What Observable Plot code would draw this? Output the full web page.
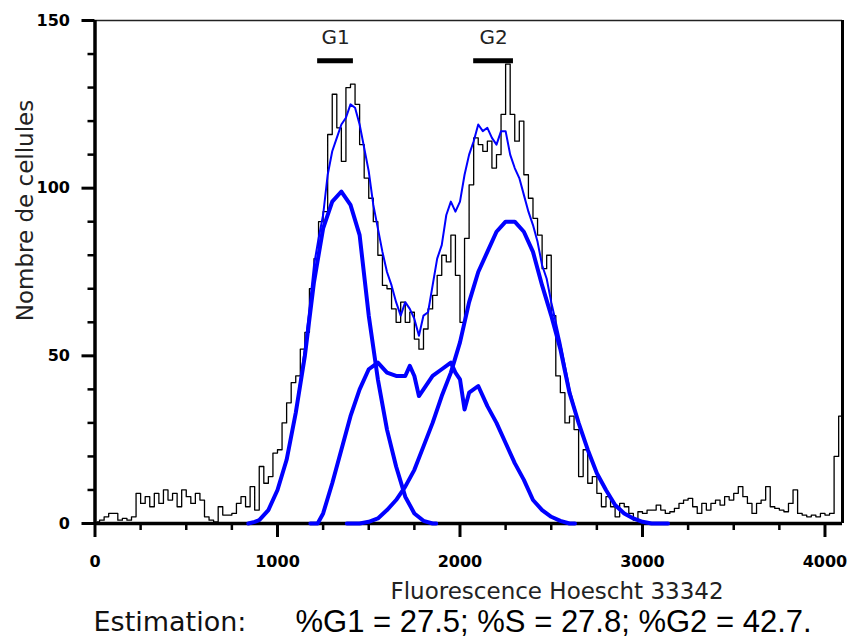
<!DOCTYPE html>
<html><head><meta charset="utf-8">
<script src="https://cdn.jsdelivr.net/npm/d3@7"></script>
<script src="https://cdn.jsdelivr.net/npm/@observablehq/plot@0.6"></script>
<style>
body{margin:0;background:#fff;}
#chart svg{display:block;}
</style></head><body><div id="chart"></div>
<script>
// Histogram channel width (fluorescence units per bin)
const binWidth = 25;
// Black histogram: cell counts per bin (bins start at 0)
const counts = [
  0.5,1,2,3,3,1,1.5,1,
  2,9,6,8,5,9,6,10,
  7,9,5,10,8,6,9,7,
  2,1,0.5,5,2.5,2.5,3,6,
  8,5,11,4,17,12,14,21,
  22,30,36,42,44,52,57,70,
  79,90,93,116,128,118,108,130,
  131,125,113,103,97,90,80,71,
  70,64,60,66,60,63,55,52,
  58,64,68,74,80,78,86,74,
  60,85,101,115,113,111,114,106,
  110,122,137,122,114,120,104,97,
  91,86,76,80,62,44,39,30,
  32,28,14,22,12,14,9,5,
  8,5,2,6,5,3,1,3.5,
  3,4,4,5.5,4,3,3.5,4.5,
  6,7,7.5,5,3,6,4,6,
  7,5.5,8,7,9,11,8,6,
  3,6,7,11,5,4.5,4,3.5,
  6,10,3,2.5,2,2.5,2,3,
  2.5,3,20,32
];
// Fitted components [fluorescence, count]
const g1Fit = [[840,0],[875,0.5],[900,1],[950,4],[1000,10],[1050,19],[1100,33],[1150,50],[1200,72],[1250,88],[1300,96],[1350,99],[1400,95],[1450,86],[1500,62],[1550,43],[1600,28],[1650,17],[1700,8],[1750,3],[1800,0.8],[1850,0],[1870,0]];
const sFit = [[1180,0],[1220,0],[1250,3],[1300,12],[1350,22],[1400,32],[1450,40],[1500,46],[1550,48],[1600,45],[1650,44],[1700,44],[1725,47],[1750,44],[1775,38],[1800,40],[1850,44],[1900,46],[1950,48],[1975,45],[2000,43],[2025,34],[2050,39],[2100,41],[2150,35],[2200,30],[2250,24],[2300,18],[2350,13],[2400,7],[2450,4],[2500,2],[2550,0.8],[2600,0],[2630,0]];
const g2Fit = [[1380,0],[1450,0],[1500,0.5],[1550,1.5],[1600,4],[1650,7],[1700,11],[1750,16],[1800,23],[1850,30],[1900,38],[1950,45],[2000,54],[2050,66],[2100,75],[2150,81],[2200,87],[2250,90],[2300,90],[2350,87],[2400,81],[2450,71],[2500,62],[2550,52],[2600,39],[2650,30],[2700,22],[2750,15],[2800,10],[2850,5.5],[2900,3],[2950,1.5],[3000,0.5],[3050,0],[3140,0]];
const sumFit = [[850,0],[900,1],[950,4],[1000,10],[1050,19],[1100,33],[1150,52],[1175,64],[1200,77],[1225,85],[1250,92],[1275,104],[1300,111],[1325,115],[1350,119],[1375,121],[1400,125],[1425,124],[1450,119],[1475,112],[1500,105],[1525,95],[1550,88],[1575,81],[1600,75],[1625,71],[1650,66],[1675,62],[1700,66],[1725,64],[1750,61],[1775,56],[1800,62],[1825,63],[1850,71],[1875,79],[1900,83],[1925,92],[1950,96],[1975,93],[2000,96],[2025,104],[2050,110],[2075,114],[2100,119],[2125,117],[2150,118],[2175,115],[2200,113],[2225,117],[2250,117],[2275,110],[2300,106],[2325,103],[2350,98],[2375,93],[2400,89],[2425,84],[2450,77],[2475,73],[2500,66],[2525,60],[2550,54],[2575,47],[2600,40],[2650,30],[2700,22],[2750,15],[2800,10],[2850,5.5],[2900,3],[2950,1.5],[3000,0.5],[3050,0]];
// Gates
const gateLabels = ["G1","G2"];
const gateStart = [1220, 2075];
const gateEnd = [1416, 2293];
const gateLevel = 138;
// Axes
const xDomain = [0, 4096];
const yDomain = [0, 150];
const xMajor = [0,1000,2000,3000,4000];
const xMinor = [250,500,750,1250,1500,1750,2250,2500,2750,3250,3500,3750];
const yMajor = [0,50,100,150];
const yMinor = [10,20,30,40,60,70,80,90,110,120,130,140];
const xLabel = "Fluorescence Hoescht 33342";
const yLabel = "Nombre de cellules";
const estimationLabel = "Estimation:";
const estimationText = "%G1 = 27.5; %S = 27.8; %G2 = 42.7.";

const hist = counts.map((c, i) => ({x: i * binWidth + binWidth / 2, y: c}));
const pts = arr => arr.map(([x, y]) => ({x, y}));
const gates = gateLabels.map((g, i) => ({label: g, x1: gateStart[i], x2: gateEnd[i]}));
const fmt = d => String(d);

const plot = Plot.plot({
  width: 851, height: 639,
  marginTop: 20, marginLeft: 94.5, marginRight: 9, marginBottom: 116,
  x: {domain: xDomain},
  y: {domain: yDomain},
  style: {fontFamily: "DejaVu Sans", background: "#fff", color: "#000"},
  marks: [
    Plot.axisX(xMinor, {tickSize: 7, strokeWidth: 2.5, tickFormat: () => "", label: null}),
    Plot.axisX(xMajor, {tickSize: 14, tickPadding: 18, strokeWidth: 3, fontSize: 16, fontWeight: "bold", tickFormat: fmt, label: null}),
    Plot.axisY(yMinor, {tickSize: 7, strokeWidth: 2.5, tickFormat: () => "", label: null}),
    Plot.axisY(yMajor, {tickSize: 13, tickPadding: 12, strokeWidth: 3, fontSize: 16, fontWeight: "bold", tickFormat: fmt, label: null}),
    Plot.ruleY([yDomain[1]], {stroke: "#222", strokeWidth: 1.5}),
    Plot.ruleX([xDomain[1]], {stroke: "#000", strokeWidth: 3}),
    Plot.ruleX([xDomain[0]], {stroke: "#000", strokeWidth: 3.5}),
    Plot.ruleY([yDomain[0]], {stroke: "#000", strokeWidth: 3.5}),
    Plot.line(hist, {x: "x", y: "y", curve: "step", stroke: "#000", strokeWidth: 1.3}),
    Plot.line(pts(g1Fit), {x: "x", y: "y", stroke: "#0000ff", strokeWidth: 4}),
    Plot.line(pts(sFit), {x: "x", y: "y", stroke: "#0000ff", strokeWidth: 4}),
    Plot.line(pts(g2Fit), {x: "x", y: "y", stroke: "#0000ff", strokeWidth: 4}),
    Plot.line(pts(sumFit), {x: "x", y: "y", stroke: "#0000ff", strokeWidth: 2}),
    Plot.ruleY(gates, {x1: "x1", x2: "x2", y: gateLevel, stroke: "#000", strokeWidth: 5}),
    Plot.text(gates, {x: d => (d.x1 + d.x2) / 2, frameAnchor: "top", lineAnchor: "middle", dy: 17, text: "label", fontSize: 20, fill: "#222"}),
    Plot.text([xLabel], {frameAnchor: "bottom-left", lineAnchor: "middle", dx: 295.5, dy: 68, textAnchor: "start", fontSize: 23, fill: "#222"}),
    Plot.text([yLabel], {frameAnchor: "top-left", lineAnchor: "middle", rotate: -90, dx: -69.5, dy: 190, textAnchor: "middle", fontSize: 23, fill: "#222"}),
    Plot.text([estimationLabel], {frameAnchor: "bottom-left", lineAnchor: "middle", dx: -1.5, dy: 99, textAnchor: "start", fontSize: 27, fill: "#111"}),
    Plot.text([estimationText], {frameAnchor: "bottom-left", lineAnchor: "middle", dx: 200.5, dy: 99, textAnchor: "start", fontSize: 31, fontFamily: "Liberation Sans", fill: "#000"})
  ]
});
document.getElementById("chart").appendChild(plot);
</script></body></html>
